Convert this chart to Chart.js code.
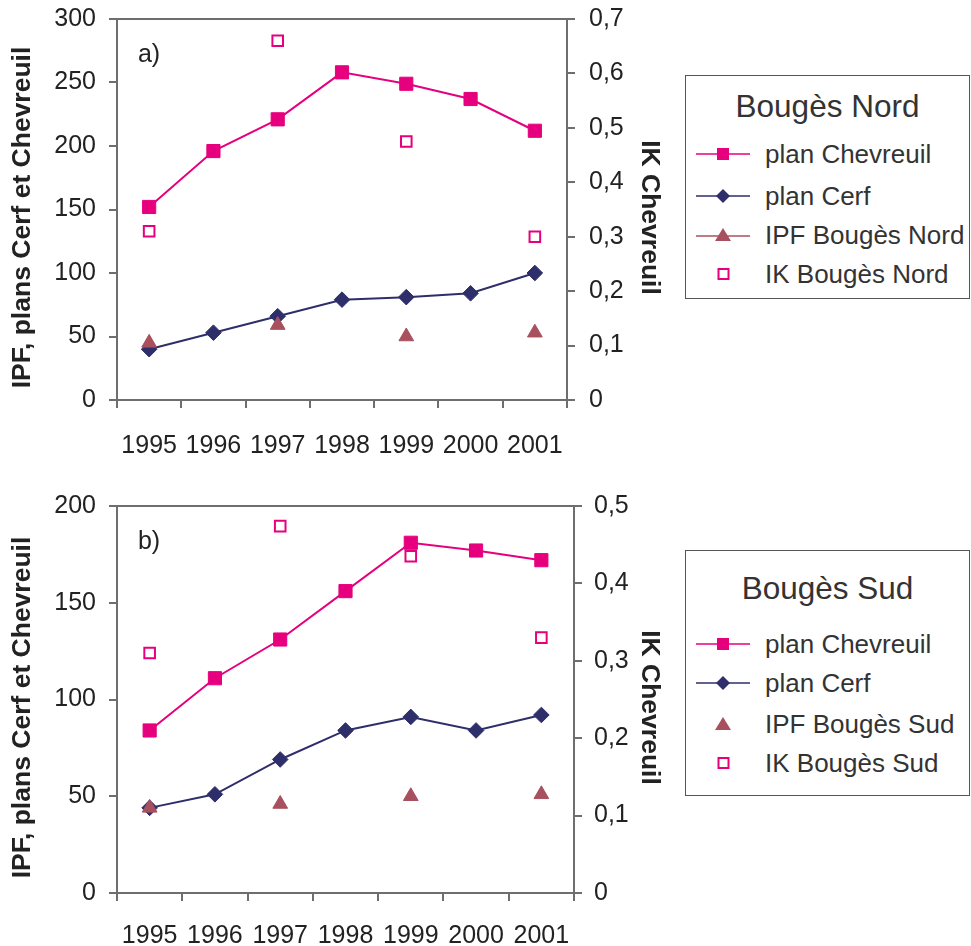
<!DOCTYPE html>
<html><head><meta charset="utf-8">
<script src="https://cdn.jsdelivr.net/npm/chart.js@4.4.1/dist/chart.umd.min.js"></script>
<style>
body{margin:0;background:#fff;width:971px;height:946px;position:relative;overflow:hidden;font-family:"Liberation Sans",Arial,sans-serif;}
canvas{position:absolute;left:0;}
.legend{position:absolute;left:685px;width:285px;border:1.5px solid #555;box-sizing:border-box;color:#333;}
.legend .ttl{position:absolute;left:0;width:100%;text-align:center;font-size:31.5px;line-height:30px;}
.legend .item{position:absolute;left:0;width:100%;height:30px;}
.legend .item svg{position:absolute;left:8px;top:5px;}
.legend .item span{position:absolute;left:79px;top:0;font-size:26px;line-height:30px;white-space:nowrap;}
</style>
</head><body>
<canvas id="cA" width="680" height="470" style="top:0"></canvas>
<canvas id="cB" width="680" height="466" style="top:480px"></canvas>

<div class="legend" style="top:75px;height:224px;">
  <div class="ttl" style="top:15px;">Bougès Nord</div>
  <div class="item" style="top:63px;"><svg width="60" height="20"><line x1="2" y1="10" x2="56" y2="10" stroke="#E6007E" stroke-width="1.5"/><rect x="23" y="4" width="12" height="12" fill="#E6007E"/></svg><span>plan Chevreuil</span></div>
  <div class="item" style="top:105px;"><svg width="60" height="20"><line x1="2" y1="10" x2="56" y2="10" stroke="#2E2E6A" stroke-width="1.5"/><polygon points="29,3 36,10 29,17 22,10" fill="#2E2E6A"/></svg><span>plan Cerf</span></div>
  <div class="item" style="top:144px;"><svg width="60" height="20"><line x1="2" y1="11" x2="56" y2="11" stroke="#A8505E" stroke-width="1.5"/><polygon points="29,3 37,16 21,16" fill="#A8505E"/></svg><span>IPF Bougès Nord</span></div>
  <div class="item" style="top:183px;"><svg width="60" height="20"><rect x="24.5" y="5" width="10" height="10" fill="#fff" stroke="#E6007E" stroke-width="2"/></svg><span>IK Bougès Nord</span></div>
</div>

<div class="legend" style="top:550px;height:246px;">
  <div class="ttl" style="top:22px;">Bougès Sud</div>
  <div class="item" style="top:78px;"><svg width="60" height="20"><line x1="2" y1="10" x2="56" y2="10" stroke="#E6007E" stroke-width="1.5"/><rect x="23" y="4" width="12" height="12" fill="#E6007E"/></svg><span>plan Chevreuil</span></div>
  <div class="item" style="top:117px;"><svg width="60" height="20"><line x1="2" y1="10" x2="56" y2="10" stroke="#2E2E6A" stroke-width="1.5"/><polygon points="29,3 36,10 29,17 22,10" fill="#2E2E6A"/></svg><span>plan Cerf</span></div>
  <div class="item" style="top:158px;"><svg width="60" height="20"><polygon points="29,3 37,16 21,16" fill="#A8505E"/></svg><span>IPF Bougès Sud</span></div>
  <div class="item" style="top:197px;"><svg width="60" height="20"><rect x="24.5" y="5" width="10" height="10" fill="#fff" stroke="#E6007E" stroke-width="2"/></svg><span>IK Bougès Sud</span></div>
</div>

<script>
// ---- data ----
const years = ['1995','1996','1997','1998','1999','2000','2001'];

const nordChevreuil = [152, 196, 221, 258, 249, 237, 212];
const nordCerf      = [40, 53, 66, 79, 81, 84, 100];
const nordIPF       = [45, null, 59, null, 50, null, 53];
const nordIK        = [0.31, null, 0.66, null, 0.475, null, 0.30];

const sudChevreuil  = [84, 111, 131, 156, 181, 177, 172];
const sudCerf       = [44, 51, 69, 84, 91, 84, 92];
const sudIPF        = [44, null, 46, null, 50, null, 51];
const sudIK         = [0.31, null, 0.474, null, 0.435, null, 0.33];

const leftTicksA  = {min: 0, max: 300, step: 50};
const rightTicksA = {min: 0, max: 0.7, step: 0.1};
const leftTicksB  = {min: 0, max: 200, step: 50};
const rightTicksB = {min: 0, max: 0.5, step: 0.1};

const leftTitle = 'IPF, plans Cerf et Chevreuil';
const rightTitle = 'IK Chevreuil';

// ---- style ----
const PINK = '#E6007E', NAVY = '#2E2E6A', MAUVE = '#A8505E', AXIS = '#6E6E6E', TXT = '#222';
const FONT = '"Liberation Sans", Arial, sans-serif';

const panelLabel = {
  id: 'panelLabel',
  afterDraw(chart, args, opts) {
    const {ctx, chartArea} = chart;
    ctx.save();
    ctx.font = '25px ' + FONT;
    ctx.fillStyle = TXT;
    ctx.textAlign = 'center';
    ctx.textBaseline = 'middle';
    ctx.fillText(opts.text, chartArea.left + opts.dx, chartArea.top + opts.dy);
    // axis titles
    ctx.font = 'bold 26.5px ' + FONT;
    const cy = (chartArea.top + chartArea.bottom) / 2 + 8;
    ctx.save();
    ctx.translate(23, cy);
    ctx.rotate(-Math.PI / 2);
    ctx.fillText(leftTitle, 0, 0);
    ctx.restore();
    ctx.save();
    ctx.translate(chart.width - 31, cy);
    ctx.rotate(Math.PI / 2);
    ctx.fillText(rightTitle, 0, 0);
    ctx.restore();
    ctx.restore();
  }
};

function makeChart(id, cfg) {
  const fmt = v => v === 0 ? '0' : Number(v).toFixed(1).replace('.', ',');
  const noPad = s => { s.paddingTop = 0; s.paddingBottom = 0; };
  return new Chart(document.getElementById(id), {
    type: 'line',
    data: {
      labels: years,
      datasets: [
        {label: cfg.ipfLabel, data: cfg.ipf, yAxisID: 'y', showLine: false,
         pointStyle: 'triangle', pointRadius: 8.5, pointBackgroundColor: MAUVE, pointBorderColor: MAUVE, pointBorderWidth: 1,
         borderColor: MAUVE, backgroundColor: MAUVE, order: 1},
        {label: cfg.ikLabel, data: cfg.ik, yAxisID: 'y1', showLine: false,
         pointStyle: 'rect', pointRadius: 7.5, pointBackgroundColor: '#fff', pointBorderColor: PINK, pointBorderWidth: 2,
         borderColor: PINK, backgroundColor: '#fff', order: 2},
        {label: 'plan Chevreuil', data: cfg.chev, yAxisID: 'y', borderColor: PINK, borderWidth: 2,
         pointStyle: 'rect', pointRadius: 9.3, pointBackgroundColor: PINK, pointBorderColor: PINK, pointBorderWidth: 1,
         backgroundColor: PINK, tension: 0, order: 3},
        {label: 'plan Cerf', data: cfg.cerf, yAxisID: 'y', borderColor: NAVY, borderWidth: 2,
         pointStyle: 'rectRot', pointRadius: 7.8, pointBackgroundColor: NAVY, pointBorderColor: NAVY, pointBorderWidth: 1,
         backgroundColor: NAVY, tension: 0, order: 4}
      ]
    },
    options: {
      responsive: false,
      animation: false,
      devicePixelRatio: 1,
      layout: {padding: {top: cfg.padTop, left: 0, right: 0, bottom: 0}},
      plugins: {legend: {display: false}, tooltip: {enabled: false},
                panelLabel: {text: cfg.panel, dx: 32, dy: 36}},
      scales: {
        x: {
          type: 'category', offset: true,
          grid: {offset: true, drawOnChartArea: false, tickLength: 8, tickColor: AXIS, lineWidth: 2},
          border: {display: true, color: AXIS, width: 2},
          ticks: {color: TXT, font: {family: FONT, size: 25}, padding: cfg.xPad, autoSkip: false, maxRotation: 0},
          afterFit: s => { s.height = cfg.xHeight; s.paddingLeft = 0; s.paddingRight = 0; }
        },
        y: {
          position: 'left', min: cfg.left.min, max: cfg.left.max,
          grid: {drawOnChartArea: true, tickLength: 8, tickColor: AXIS, lineWidth: 2,
                 color: c => (c.scale && c.index === c.scale.ticks.length - 1) ? AXIS : 'rgba(0,0,0,0)'},
          border: {display: true, color: AXIS, width: 2},
          ticks: {stepSize: cfg.left.step, color: TXT, font: {family: FONT, size: 25}, padding: 13},
          title: {display: false},
          afterFit: s => { s.width = 117; noPad(s); }
        },
        y1: {
          position: 'right', min: cfg.right.min, max: cfg.right.max,
          grid: {drawOnChartArea: false, tickLength: 8, tickColor: AXIS, lineWidth: 2},
          border: {display: true, color: AXIS, width: 2},
          ticks: {stepSize: cfg.right.step, color: TXT, font: {family: FONT, size: 25}, padding: cfg.rPad, callback: fmt},
          title: {display: false},
          afterFit: s => { s.width = cfg.rWidth; noPad(s); }
        }
      }
    },
    plugins: [panelLabel]
  });
}

makeChart('cA', {chev: nordChevreuil, cerf: nordCerf, ipf: nordIPF, ik: nordIK,
  ipfLabel: 'IPF Bougès Nord', ikLabel: 'IK Bougès Nord', panel: 'a)',
  left: leftTicksA, right: rightTicksA, padTop: 19, xHeight: 70, xPad: 23, rPad: 14, rWidth: 113});

makeChart('cB', {chev: sudChevreuil, cerf: sudCerf, ipf: sudIPF, ik: sudIK,
  ipfLabel: 'IPF Bougès Sud', ikLabel: 'IK Bougès Sud', panel: 'b)',
  left: leftTicksB, right: rightTicksB, padTop: 26, xHeight: 53, xPad: 20, rPad: 12, rWidth: 106});
</script>
</body></html>
